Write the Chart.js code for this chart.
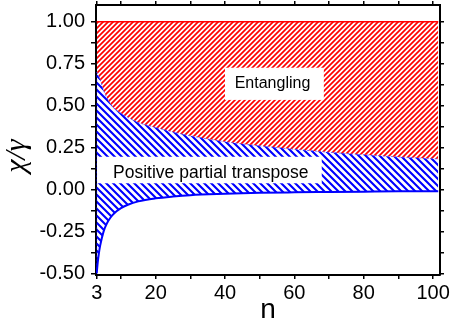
<!DOCTYPE html>
<html>
<head>
<meta charset="utf-8">
<script src="https://cdn.jsdelivr.net/npm/chart.js@4/dist/chart.umd.min.js"></script>
<style>
  html, body { margin: 0; padding: 0; background: #fff; }
  #wrap { width: 452px; height: 327px; }
</style>
</head>
<body>
<div id="wrap"><canvas id="c" width="452" height="327"></canvas></div>
<script>
// n values (x) and the two boundaries
const nValues   = [3, 3.3, 3.6, 4, 5, 6, 7, 8, 10, 12, 15, 20, 25, 30, 40, 50, 60, 70, 80, 90, 101.5];
const pptUpper  = [0.70, 0.69, 0.675, 0.655, 0.59, 0.545, 0.51, 0.485, 0.455, 0.43, 0.40, 0.37, 0.343, 0.32, 0.285, 0.26, 0.24, 0.222, 0.207, 0.194, 0.182];
const pptLower  = [-0.50, -0.435, -0.385, -0.335, -0.25, -0.20, -0.167, -0.143, -0.111, -0.091, -0.071, -0.053, -0.042, -0.034, -0.026, -0.020, -0.017, -0.015, -0.013, -0.011, -0.010];

// upper limit of the entangling region and the left edge at n = 3
const limitN    = [3, 101.5];
const limitVal  = [1.0, 1.0];
const edgeN     = [3, 3];
const edgeVal   = [-0.50, 0.70];

const xTickValues = [3, 10, 20, 30, 40, 50, 60, 70, 80, 90, 100];
const xTickLabels = ['3', '', '20', '', '40', '', '60', '', '80', '', '100'];
const yTickValues = [-0.5, -0.375, -0.25, -0.125, 0, 0.125, 0.25, 0.375, 0.5, 0.625, 0.75, 0.875, 1.0];
const yTickLabels = ['-0.50', '', '-0.25', '', '0.00', '', '0.25', '', '0.50', '', '0.75', '', '1.00'];

const FONT = "'Liberation Sans', Arial, sans-serif";

function hatch(color, size, width, dir) {
  const c = document.createElement('canvas');
  c.width = c.height = size;
  const g = c.getContext('2d');
  g.strokeStyle = color;
  g.lineWidth = width;
  g.beginPath();
  if (dir === '/') {
    g.moveTo(-1, 1); g.lineTo(1, -1);
    g.moveTo(0, size); g.lineTo(size, 0);
    g.moveTo(size - 1, size + 1); g.lineTo(size + 1, size - 1);
  } else {
    g.moveTo(-1, size - 1); g.lineTo(1, size + 1);
    g.moveTo(0, 0); g.lineTo(size, size);
    g.moveTo(size - 1, -1); g.lineTo(size + 1, 1);
  }
  g.stroke();
  return g.createPattern(c, 'repeat');
}

const pts = (xs, ys) => xs.map((x, i) => ({ x, y: ys[i] }));

// fix axis sizes so the plot area sits where the original one does
const fixSize = (w, h) => s => {
  if (w != null) s.width = w;
  if (h != null) s.height = h;
  s.paddingTop = 0; s.paddingBottom = 0; s.paddingLeft = 0; s.paddingRight = 0;
};

// white label boxes on top of the hatching
const labelBoxes = {
  id: 'labelBoxes',
  afterDatasetsDraw(chart) {
    const { ctx, scales: { x, y } } = chart;
    const boxes = [
      { text: 'Entangling', size: 16, x0: 40.0, x1: 68.5, y0: 0.534, y1: 0.726, tx: 53.7, ty: 0.603 },
      { text: 'Positive partial transpose', size: 17.5, x0: 3.1, x1: 67.9, y0: 0.037, y1: 0.195, tx: 35.9, ty: 0.066 }
    ];
    ctx.save();
    boxes.forEach(b => {
      const l = x.getPixelForValue(b.x0), r = x.getPixelForValue(b.x1);
      const t = y.getPixelForValue(b.y1), btm = y.getPixelForValue(b.y0);
      ctx.fillStyle = '#fff';
      ctx.fillRect(l, t, r - l, btm - t);
      ctx.fillStyle = '#000';
      ctx.font = b.size + 'px ' + FONT;
      ctx.textAlign = 'center';
      ctx.textBaseline = 'alphabetic';
      ctx.fillText(b.text, x.getPixelForValue(b.tx), y.getPixelForValue(b.ty));
    });
    ctx.restore();
  },
  afterDraw(chart) {
    const { ctx } = chart;
    ctx.save();
    ctx.translate(17, 156);
    ctx.rotate(-Math.PI / 2);
    ctx.fillStyle = '#000';
    ctx.font = "italic 30px 'Liberation Serif', serif";
    ctx.textAlign = 'center';
    ctx.textBaseline = 'middle';
    ctx.fillText('χ/γ', 0, 0);
    ctx.restore();
  }
};

const tickFont = { family: FONT, size: 20 };

new Chart(document.getElementById('c'), {
  type: 'line',
  data: {
    datasets: [
      {
        data: pts(limitN, limitVal),
        borderColor: '#ff0000', borderWidth: 1.5, pointRadius: 0, fill: false
      },
      {
        data: pts(nValues, pptUpper),
        borderColor: 'rgba(60,60,255,0.7)', borderWidth: 1, borderDash: [2, 2],
        pointRadius: 0, cubicInterpolationMode: 'monotone',
        fill: 0, backgroundColor: hatch('#ff0000', 5, 1.7, '/')
      },
      {
        data: pts(nValues, pptLower),
        borderColor: '#0000ff', borderWidth: 2, pointRadius: 0,
        cubicInterpolationMode: 'monotone',
        fill: 1, backgroundColor: hatch('#0000ff', 7, 2.1, '\\')
      },
      {
        data: pts(edgeN, edgeVal),
        borderColor: 'rgba(0,0,255,0.6)', borderWidth: 1, borderDash: [2, 2],
        pointRadius: 0, fill: false
      }
    ]
  },
  options: {
    responsive: false,
    animation: false,
    devicePixelRatio: 1,
    plugins: { legend: { display: false }, tooltip: { enabled: false } },
    layout: { padding: 0 },
    scales: {
      x: {
        type: 'linear', position: 'bottom', min: 2.8, max: 102,
        afterBuildTicks: s => { s.ticks = xTickValues.map(v => ({ value: v })); },
        afterFit: fixSize(null, 52),
        ticks: {
          color: '#000', font: tickFont, padding: 2, maxRotation: 0, autoSkip: false,
          callback: v => xTickLabels[xTickValues.indexOf(v)]
        },
        grid: { drawOnChartArea: false, tickLength: 4, color: '#000', lineWidth: 1.5 },
        border: { color: '#000', width: 2 },
        title: { display: true, text: 'n', color: '#000', font: { family: FONT, size: 28 }, padding: 0 }
      },
      x2: {
        type: 'linear', position: 'top', min: 2.8, max: 102,
        afterBuildTicks: s => { s.ticks = xTickValues.map(v => ({ value: v })); },
        afterFit: fixSize(null, 5),
        ticks: { display: false },
        grid: { drawOnChartArea: false, tickLength: 4, color: '#000', lineWidth: 1.5 },
        border: { color: '#000', width: 2 }
      },
      y: {
        type: 'linear', position: 'left', min: -0.51, max: 1.10,
        afterBuildTicks: s => { s.ticks = yTickValues.map(v => ({ value: v })); },
        afterFit: fixSize(96, null),
        ticks: {
          color: '#000', font: tickFont, padding: 6, autoSkip: false,
          callback: v => yTickLabels[yTickValues.indexOf(v)]
        },
        grid: { drawOnChartArea: false, tickLength: 5, color: '#000', lineWidth: 1.5 },
        border: { color: '#000', width: 2 }
      },
      y2: {
        type: 'linear', position: 'right', min: -0.51, max: 1.10,
        afterBuildTicks: s => { s.ticks = yTickValues.map(v => ({ value: v })); },
        afterFit: fixSize(12, null),
        ticks: { display: false },
        grid: { drawOnChartArea: false, tickLength: 4, color: '#000', lineWidth: 1.5 },
        border: { color: '#000', width: 2 }
      }
    }
  },
  plugins: [labelBoxes]
});
</script>
</body>
</html>
